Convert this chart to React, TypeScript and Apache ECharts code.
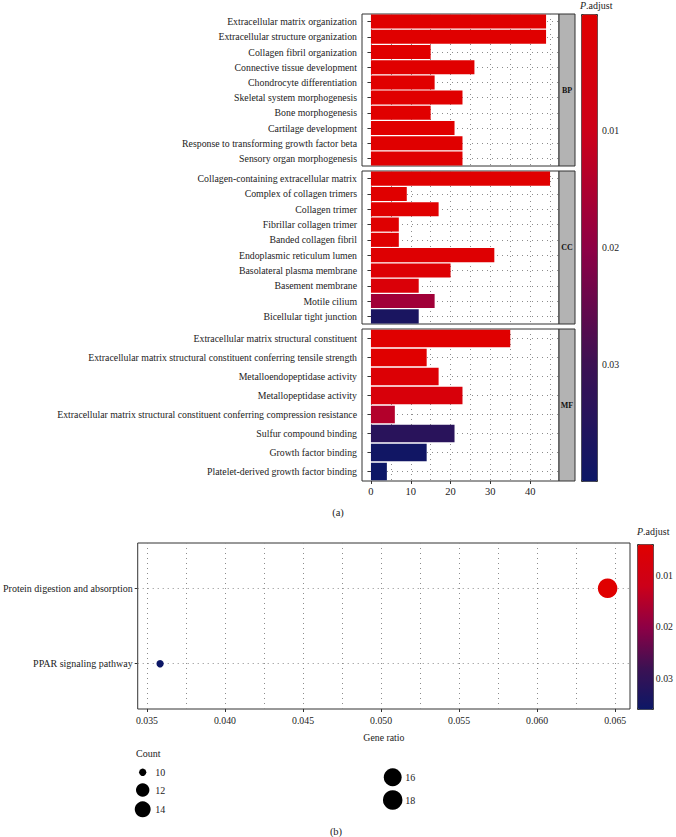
import React, { useEffect, useRef } from "react";
import * as echarts from "echarts";

// ---------- data ----------
const bpTerms = [
  "Extracellular matrix organization",
  "Extracellular structure organization",
  "Collagen fibril organization",
  "Connective tissue development",
  "Chondrocyte differentiation",
  "Skeletal system morphogenesis",
  "Bone morphogenesis",
  "Cartilage development",
  "Response to transforming growth factor beta",
  "Sensory organ morphogenesis",
];
const bpCounts = [44, 44, 15, 26, 16, 23, 15, 21, 23, 23];
const bpPadj = [1.2e-8, 1.5e-8, 2.1e-6, 3.0e-6, 5.2e-6, 1.1e-5, 3.4e-5, 6.8e-5, 1.2e-4, 2.5e-4];

const ccTerms = [
  "Collagen-containing extracellular matrix",
  "Complex of collagen trimers",
  "Collagen trimer",
  "Fibrillar collagen trimer",
  "Banded collagen fibril",
  "Endoplasmic reticulum lumen",
  "Basolateral plasma membrane",
  "Basement membrane",
  "Motile cilium",
  "Bicellular tight junction",
];
const ccCounts = [45, 9, 17, 7, 7, 31, 20, 12, 16, 12];
const ccPadj = [1e-9, 4e-5, 1e-4, 3e-4, 5e-4, 8e-4, 1.5e-3, 3e-3, 0.017, 0.037];

const mfTerms = [
  "Extracellular matrix structural constituent",
  "Extracellular matrix structural constituent conferring tensile strength",
  "Metalloendopeptidase activity",
  "Metallopeptidase activity",
  "Extracellular matrix structural constituent conferring compression resistance",
  "Sulfur compound binding",
  "Growth factor binding",
  "Platelet-derived growth factor binding",
];
const mfCounts = [35, 14, 17, 23, 6, 21, 14, 4];
const mfPadj = [2e-7, 1e-4, 2e-3, 4e-3, 0.014, 0.034, 0.039, 0.04];

const ontologyNames = ["BP", "CC", "MF"];
const countTicks = [0, 10, 20, 30, 40];
const countGridLines = [0, 5, 10, 15, 20, 25, 30, 35, 40, 45];
const goPadjTicks = [0.01, 0.02, 0.03];

const keggTerms = ["Protein digestion and absorption", "PPAR signaling pathway"];
const keggRatio = [18 / 279, 10 / 279];
const keggCounts = [18, 10];
const keggPadj = [0.0039, 0.036];
const ratioTicks = [0.035, 0.04, 0.045, 0.05, 0.055, 0.06, 0.065];
const keggPadjTicks = [0.01, 0.02, 0.03];
const legendCounts = [10, 12, 14, 16, 18];

// ---------- style ----------
const FONT = "'Liberation Serif', 'Times New Roman', serif";
const TXT = "#222";
const GRIDC = "#8C8C8C";
const DOTTED = [1, 4];
const PALETTE = ["#E00000", "#CC0019", "#8E0045", "#3C1153", "#0C1766"];
const FS = 9.8;

const panels = [
  { terms: bpTerms, counts: bpCounts, padj: bpPadj },
  { terms: ccTerms, counts: ccCounts, padj: ccPadj },
  { terms: mfTerms, counts: mfCounts, padj: mfPadj },
];
const panelTop = [14, 171, 329];
const panelH = [152, 153, 152];
const plotLeft = 362;
const plotRight = 559;
const stripW = 16;

const maxCount = Math.max(...bpCounts, ...ccCounts, ...mfCounts);
const countMin = -0.05 * maxCount;
const countMax = maxCount * 1.05;

const rMin = Math.min(...keggRatio);
const rMax = Math.max(...keggRatio);
const rPad = (rMax - rMin) * 0.05;

const cExt = [Math.min(...keggCounts), Math.max(...keggCounts)];
const sizeRange = [7.3, 19.5];
const sizeOf = (c: number) =>
  sizeRange[0] + (sizeRange[1] - sizeRange[0]) * Math.sqrt((c - cExt[0]) / (cExt[1] - cExt[0]));

const ratioGrid: number[] = [];
ratioTicks.forEach((t, i) => {
  ratioGrid.push(t);
  if (i < ratioTicks.length - 1) ratioGrid.push((t + ratioTicks[i + 1]) / 2);
});

const legendPos = [
  [142.7, 772.3],
  [142.7, 790],
  [142.7, 809.3],
  [392.7, 777.3],
  [392.7, 800],
];

const labelStyle = { fontFamily: FONT, fontSize: FS, color: TXT };
const tickStyle = { lineStyle: { color: "#333", width: 1 }, length: 3 };

export default function App() {
  const ref = useRef<HTMLDivElement>(null);
  useEffect(() => {
    document.body.style.margin = "0";
    const chart = echarts.init(ref.current!, null, { renderer: "svg" });

    const grids: any[] = panels.map((_, i) => ({
      left: plotLeft,
      top: panelTop[i],
      width: plotRight - plotLeft,
      height: panelH[i],
      show: true,
      borderColor: "#333",
      borderWidth: 1,
      backgroundColor: "#fff",
    }));
    grids.push({ left: 135, top: 543, width: 495, height: 166, show: true, borderColor: "#333", borderWidth: 1, backgroundColor: "#fff" });
    grids.push({ left: 581, top: 14, width: 16, height: 467 });
    grids.push({ left: 637, top: 544, width: 16, height: 165 });

    const xAxes: any[] = panels.map((_, i) => ({
      type: "value",
      gridIndex: i,
      min: countMin,
      max: countMax,
      splitLine: { show: false },
      axisLine: { show: false },
      axisTick: { show: i === 2, customValues: countTicks, ...tickStyle },
      axisLabel: { show: i === 2, customValues: countTicks, margin: 5, ...labelStyle, fontSize: 10.5 },
    }));
    xAxes.push({
      type: "value",
      gridIndex: 3,
      min: rMin - rPad,
      max: rMax + rPad,
      splitLine: { show: false },
      axisLine: { show: false },
      axisTick: { customValues: ratioTicks, ...tickStyle },
      axisLabel: { customValues: ratioTicks, margin: 6, formatter: (v: number) => v.toFixed(3), ...labelStyle },
      name: "Gene ratio",
      nameLocation: "middle",
      nameGap: 23,
      nameTextStyle: { ...labelStyle },
    });
    xAxes.push({ type: "value", gridIndex: 4, show: false, min: 0, max: 1 });
    xAxes.push({ type: "value", gridIndex: 5, show: false, min: 0, max: 1 });

    const yAxes: any[] = panels.map((p, i) => ({
      type: "category",
      gridIndex: i,
      data: p.terms,
      inverse: true,
      axisLine: { show: false },
      axisTick: { show: true, alignWithLabel: true, ...tickStyle },
      axisLabel: { margin: 5, interval: 0, ...labelStyle },
      splitLine: { show: false },
    }));
    yAxes.push({
      type: "value",
      gridIndex: 3,
      min: 0.4,
      max: keggTerms.length + 0.6,
      axisLine: { show: false },
      splitLine: { show: false },
      axisTick: { customValues: keggTerms.map((_, i) => keggTerms.length - i), ...tickStyle },
      axisLabel: {
        customValues: keggTerms.map((_, i) => keggTerms.length - i),
        formatter: (v: number) => keggTerms[keggTerms.length - Math.round(v)],
        margin: 5,
        ...labelStyle,
        fontSize: 10,
      },
    });
    yAxes.push({
      type: "value",
      gridIndex: 4,
      min: 0,
      max: 0.04,
      inverse: true,
      position: "right",
      axisLine: { show: false },
      splitLine: { show: false },
      axisTick: { customValues: goPadjTicks, ...tickStyle },
      axisLabel: { customValues: goPadjTicks, formatter: (v: number) => v.toFixed(2), margin: 5, ...labelStyle },
    });
    yAxes.push({
      type: "value",
      gridIndex: 5,
      min: Math.min(...keggPadj),
      max: Math.max(...keggPadj),
      inverse: true,
      position: "right",
      axisLine: { show: false },
      splitLine: { show: false },
      axisTick: { customValues: keggPadjTicks, ...tickStyle },
      axisLabel: { customValues: keggPadjTicks, formatter: (v: number) => v.toFixed(2), margin: 5, ...labelStyle },
    });

    const gridLineStyle = { type: DOTTED, color: GRIDC, width: 1 };

    const series: any[] = panels.map((p, i) => ({
      type: "bar",
      xAxisIndex: i,
      yAxisIndex: i,
      data: p.terms.map((t, j) => [p.counts[j], t, p.padj[j]]),
      encode: { x: 0, y: 1 },
      barCategoryGap: "8%",
      z: 3,
      markLine: {
        silent: true,
        symbol: "none",
        precision: 10,
        z: 1,
        label: { show: false },
        emphasis: { disabled: true },
        lineStyle: gridLineStyle,
        data: [
          ...countGridLines.map((v) => ({ xAxis: v })),
          ...p.terms.map((t) => ({ yAxis: t })),
        ],
      },
    }));
    series.push({
      type: "scatter",
      xAxisIndex: 3,
      yAxisIndex: 3,
      data: keggTerms.map((t, i) => [keggRatio[i], keggTerms.length - i, keggPadj[i], keggCounts[i], t]),
      encode: { x: 0, y: 1 },
      symbolSize: (v: number[]) => sizeOf(v[3]),
      itemStyle: { opacity: 1 },
      z: 3,
      markLine: {
        silent: true,
        symbol: "none",
        precision: 10,
        z: 1,
        label: { show: false },
        emphasis: { disabled: true },
        lineStyle: gridLineStyle,
        data: [
          ...ratioGrid.map((v) => ({ xAxis: v })),
          ...keggTerms.map((_, i) => ({ yAxis: keggTerms.length - i })),
        ],
      },
    });

    const graphic: any[] = [];
    ontologyNames.forEach((n, i) => {
      graphic.push({
        type: "rect",
        shape: { x: plotRight, y: panelTop[i], width: stripW, height: panelH[i] },
        style: { fill: "#B3B3B3", stroke: "#333", lineWidth: 1 },
        z: 10,
      });
      graphic.push({
        type: "text",
        x: plotRight + stripW / 2,
        y: panelTop[i] + panelH[i] / 2,
        style: { text: n, fontFamily: FONT, fontSize: 8, fontWeight: "bold", fill: "#111", align: "center", verticalAlign: "middle" },
        z: 11,
      });
    });
    const padjTitle = (x: number, y: number) => ({
      type: "text",
      x,
      y,
      style: {
        text: "{i|P}.adjust",
        rich: { i: { fontStyle: "italic", fontFamily: FONT, fontSize: 10, fill: TXT } },
        fontFamily: FONT,
        fontSize: 10,
        fill: TXT,
        align: "left",
        verticalAlign: "middle",
      },
    });
    graphic.push(padjTitle(580, 5));
    graphic.push(padjTitle(637, 531));
    graphic.push({ type: "text", x: 338, y: 512, style: { text: "(a)", fontFamily: FONT, fontSize: 10.5, fill: TXT, align: "center", verticalAlign: "middle" } });
    graphic.push({ type: "text", x: 336, y: 831, style: { text: "(b)", fontFamily: FONT, fontSize: 10.5, fill: TXT, align: "center", verticalAlign: "middle" } });
    graphic.push({ type: "text", x: 136, y: 753, style: { text: "Count", fontFamily: FONT, fontSize: 10, fill: TXT, align: "left", verticalAlign: "middle" } });
    legendCounts.forEach((c, i) => {
      const [cx, cy] = legendPos[i];
      graphic.push({ type: "circle", shape: { cx, cy, r: sizeOf(c) / 2 }, style: { fill: "#000" } });
      graphic.push({
        type: "text",
        x: cx + 12.5,
        y: cy,
        style: { text: String(c), fontFamily: FONT, fontSize: 10, fill: TXT, align: "left", verticalAlign: "middle" },
      });
    });

    chart.setOption({
      animation: false,
      backgroundColor: "#fff",
      textStyle: { fontFamily: FONT },
      grid: grids,
      xAxis: xAxes,
      yAxis: yAxes,
      visualMap: [
        {
          type: "continuous",
          seriesIndex: [0, 1, 2],
          dimension: 2,
          min: 0,
          max: 0.04,
          inverse: true,
          calculable: false,
          hoverLink: false,
          left: 581,
          top: 14,
          itemWidth: 16,
          itemHeight: 467,
          padding: 0,
          borderColor: "#333",
          borderWidth: 1,
          inRange: { color: PALETTE },
        },
        {
          type: "continuous",
          seriesIndex: [3],
          dimension: 2,
          min: Math.min(...keggPadj),
          max: Math.max(...keggPadj),
          inverse: true,
          calculable: false,
          hoverLink: false,
          left: 637,
          top: 544,
          itemWidth: 16,
          itemHeight: 165,
          padding: 0,
          borderColor: "#333",
          borderWidth: 1,
          inRange: { color: PALETTE },
        },
      ],
      series,
      graphic,
    });
    return () => chart.dispose();
  }, []);
  return <div ref={ref} style={{ width: 676, height: 837 }} />;
}
